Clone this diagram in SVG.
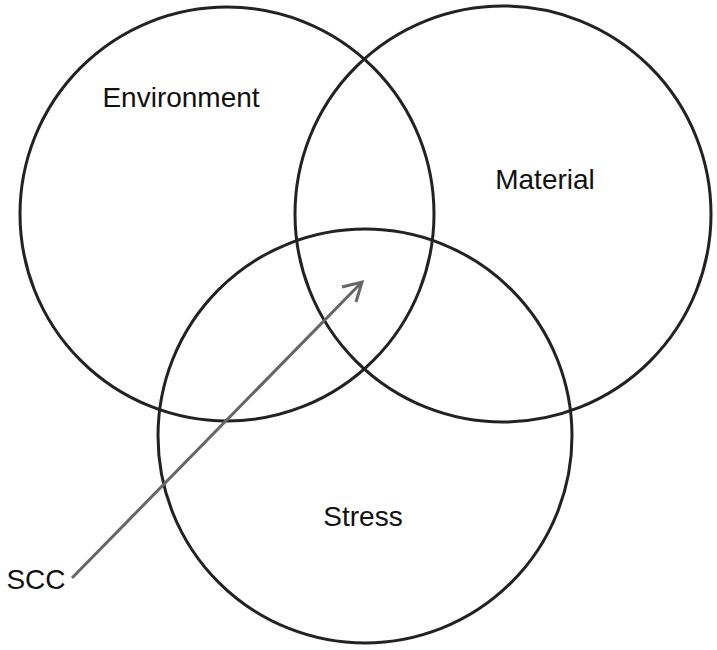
<svg xmlns="http://www.w3.org/2000/svg" width="717" height="650" viewBox="0 0 717 650">
<defs>
<style>
.c{fill:none;stroke:#222;stroke-width:3}
.t{font-family:"Liberation Sans",Arial,sans-serif;font-size:28px;fill:#111;text-anchor:middle}
</style>
<marker id="ah" viewBox="0 0 10 10" refX="9" refY="5" markerWidth="7" markerHeight="7" orient="auto" markerUnits="userSpaceOnUse">
<path d="M0,0 L10,5 L0,10" fill="none" stroke="#666" stroke-width="1.8" transform="scale(1)"/>
</marker>
</defs>
<rect width="717" height="650" fill="#fff"/>
<g id="environment"><circle class="c" cx="227" cy="214" r="207"/><text class="t" x="181" y="107">Environment</text></g>
<g id="material"><circle class="c" cx="503" cy="214" r="208"/><text class="t" x="545" y="189">Material</text></g>
<g id="stress"><circle class="c" cx="365" cy="436" r="207"/><text class="t" x="363" y="526">Stress</text></g>
<g id="scc"><text class="t" x="36" y="589">SCC</text></g>
<g id="connectors">
<line x1="72" y1="578" x2="362" y2="282" stroke="#666" stroke-width="3"/>
<path d="M342,287 L362,282 L356,302" fill="none" stroke="#666" stroke-width="3"/>
</g>
</svg>
